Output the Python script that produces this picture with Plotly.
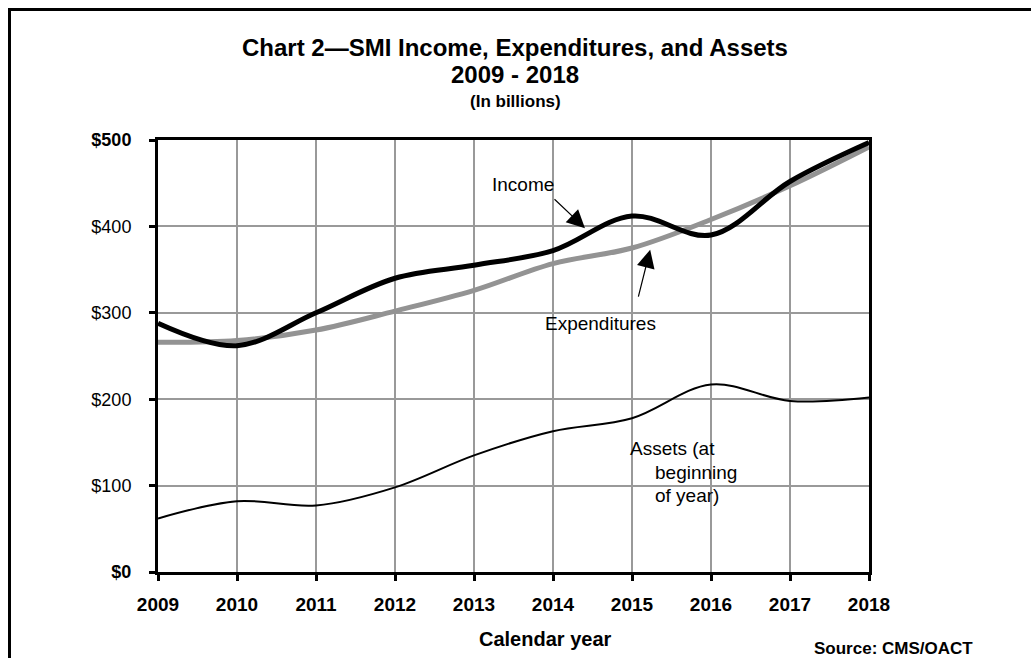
import plotly.graph_objects as go

# SMI trust fund operations, in billions of dollars
years = [2009, 2010, 2011, 2012, 2013, 2014, 2015, 2016, 2017, 2018]
income = [288, 262, 300, 340, 355, 372, 412, 390, 452, 497]
expenditures = [266, 268, 280, 302, 326, 357, 375, 408, 447, 492]
assets = [62, 82, 77, 98, 135, 163, 178, 217, 198, 202]

y_ticks = [0, 100, 200, 300, 400, 500]
y_tick_labels = ["<b>$0</b>", "$100", "$200", "$300", "$400", "<b>$500</b>"]

FONT = "Liberation Sans, Arial, sans-serif"

# plot-area geometry in pixels
W, H = 1031, 658
L, R, T, B = 158, 869, 140, 572


def px_x(p):
    return (p - L) / (R - L)


def px_y(p):
    return (B - p) / (B - T)


fig = go.Figure()

fig.add_trace(go.Scatter(
    x=years, y=assets, mode="lines", line=dict(color="black", width=2, shape="spline"),
    showlegend=False, hoverinfo="skip"))
fig.add_trace(go.Scatter(
    x=years, y=expenditures, mode="lines", line=dict(color="#939393", width=5, shape="spline"),
    showlegend=False, hoverinfo="skip"))
fig.add_trace(go.Scatter(
    x=years, y=income, mode="lines", line=dict(color="black", width=5, shape="spline"),
    showlegend=False, hoverinfo="skip"))

annotations = []

# title block
for text, py, size in [
    ("<b>Chart 2—SMI Income, Expenditures, and Assets</b>", 47, 24),
    ("<b>2009 - 2018</b>", 75, 24),
    ("<b>(In billions)</b>", 101, 17),
]:
    annotations.append(dict(
        x=px_x(515), y=px_y(py), xref="paper", yref="paper", text=text,
        showarrow=False, xanchor="center", yanchor="middle",
        font=dict(family=FONT, size=size, color="black")))

annotations.append(dict(
    x=px_x(545), y=px_y(639), xref="paper", yref="paper", text="<b>Calendar year</b>",
    showarrow=False, xanchor="center", yanchor="middle",
    font=dict(family=FONT, size=20, color="black")))
annotations.append(dict(
    x=px_x(975), y=px_y(648), xref="paper", yref="paper", text="<b>Source: CMS/OACT</b>",
    showarrow=False, xanchor="right", yanchor="middle",
    font=dict(family=FONT, size=17, color="black")))

# series labels
label_font = dict(family=FONT, size=19, color="black")
annotations.append(dict(x=2013.62, y=448, text="Income", showarrow=False,
                        xanchor="center", yanchor="middle", font=label_font))
annotations.append(dict(x=2014.595, y=288, text="Expenditures", showarrow=False,
                        xanchor="center", yanchor="middle", font=label_font))
for text, x, y in [("Assets (at", 2014.95, 143.5),
                   ("beginning", 2015.27, 115.7),
                   ("of year)", 2015.27, 89.1)]:
    annotations.append(dict(x=x, y=y, text=text, showarrow=False,
                            xanchor="left", yanchor="middle", font=label_font))

# pointer arrows
for tail, head in [((2014.0, 433), (2014.405, 398)),
                   ((2015.076, 317), (2015.23, 373))]:
    annotations.append(dict(
        x=head[0], y=head[1], ax=tail[0], ay=tail[1], axref="x", ayref="y",
        xref="x", yref="y", text="", showarrow=True, arrowhead=2,
        arrowsize=3, arrowwidth=1.2, arrowcolor="black", standoff=0, startstandoff=0))

# outer frame (top and left edges)
shapes = [
    dict(type="line", xref="paper", yref="paper", x0=px_x(8), x1=px_x(W + 5),
         y0=px_y(9.5), y1=px_y(9.5), line=dict(color="black", width=3)),
    dict(type="line", xref="paper", yref="paper", x0=px_x(9.5), x1=px_x(9.5),
         y0=px_y(8), y1=px_y(H + 5), line=dict(color="black", width=3)),
]

fig.update_layout(
    width=W, height=H,
    margin=dict(l=L, r=W - R, t=T, b=H - B),
    paper_bgcolor="white", plot_bgcolor="white",
    annotations=annotations, shapes=shapes,
    xaxis=dict(
        range=[2009, 2018], tickmode="array", tickvals=years,
        ticktext=[f"<b>{y}</b>" for y in years],
        tickfont=dict(family=FONT, size=19, color="black"),
        ticklabelstandoff=7,
        showgrid=True, gridcolor="#999999", gridwidth=2,
        showline=True, linecolor="black", linewidth=3, mirror=True,
        ticks="outside", ticklen=6, tickwidth=3, tickcolor="black",
        zeroline=False, fixedrange=True),
    yaxis=dict(
        range=[0, 500], tickmode="array", tickvals=y_ticks, ticktext=y_tick_labels,
        tickfont=dict(family=FONT, size=18, color="black"),
        ticklabelstandoff=14,
        showgrid=True, gridcolor="#999999", gridwidth=2,
        showline=True, linecolor="black", linewidth=3, mirror=True,
        ticks="outside", ticklen=6, tickwidth=3, tickcolor="black",
        zeroline=False, fixedrange=True),
)

fig.write_html("out.html", config={"displayModeBar": False})
